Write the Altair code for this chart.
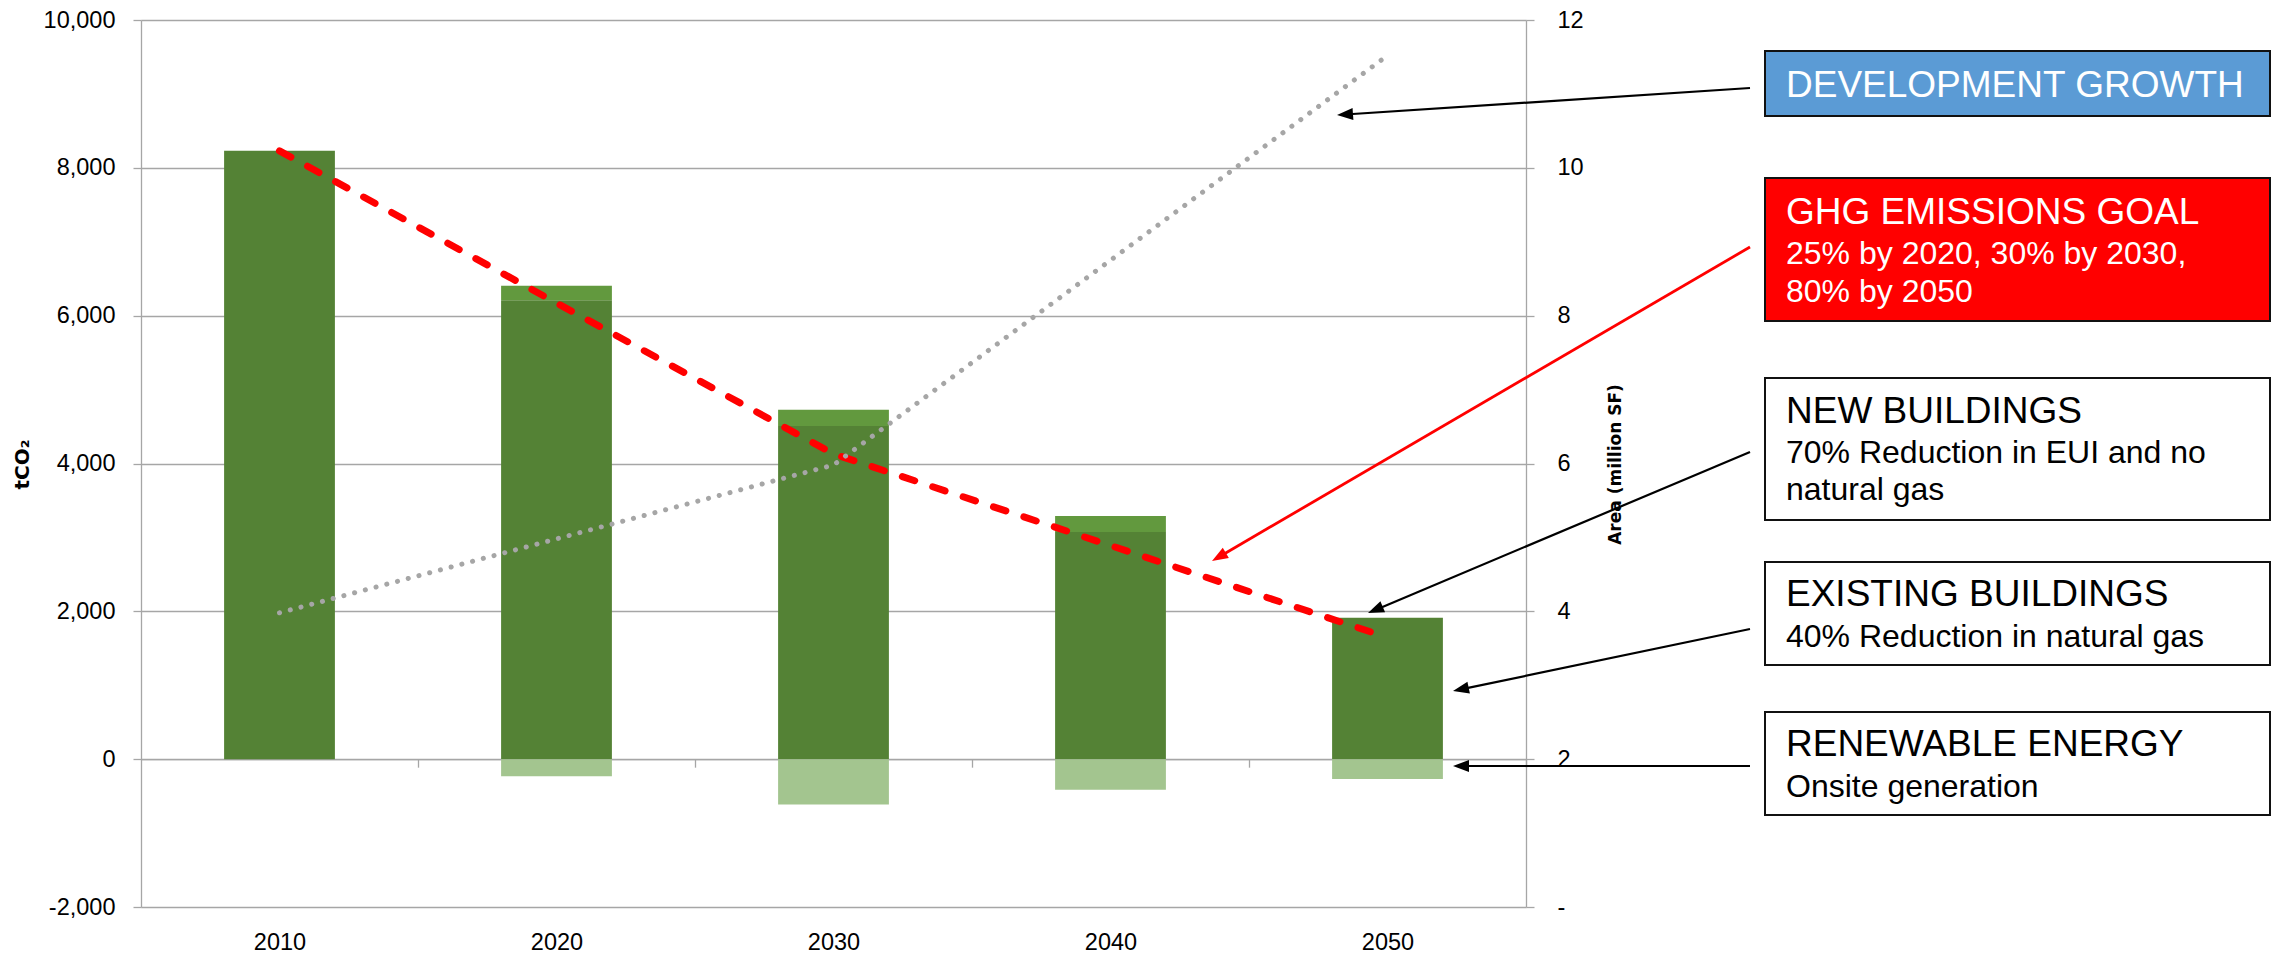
import math
import pandas as pd
import altair as alt

# ---------------- data ----------------
years = ["2010", "2020", "2030", "2040", "2050"]
existing = [8230, 6207, 4507, 3074, 1912]      # tCO2, dark green
new_bldg = [0, 198, 219, 215, 0]               # tCO2, lighter green on top
renewable = [0, -231, -612, -413, -268]        # tCO2, negative, pale green
ghg_goal = [8230, 6172, 4130, 2890, 1646]      # tCO2, red dashed line
area = [3.98, 4.98, 5.98, 8.75, 11.52]         # million SF, grey dotted line

left_ticks = [-2000, 0, 2000, 4000, 6000, 8000, 10000]
right_ticks = [0, 2, 4, 6, 8, 10, 12]

# ---------------- layout ----------------
W, H = 1385, 887
X0, Y0 = 141, 20
Y_MIN, Y_MAX = -2000, 10000
GRID = "#A6A6A6"
LABEL_FONT = "Liberation Sans"
LABEL_SIZE = 23.5
STEP = W / len(years)

comp_names = ["Existing buildings", "New buildings", "Renewable energy"]
comp_colors = ["#548235", "#62993E", "#A3C58F"]

rows = []
for i, yr in enumerate(years):
    rows.append({"year": yr, "component": comp_names[0], "value": existing[i], "ord": 0})
    rows.append({"year": yr, "component": comp_names[1], "value": new_bldg[i], "ord": 1})
    rows.append({"year": yr, "component": comp_names[2], "value": renewable[i], "ord": 2})
bars_df = pd.DataFrame(rows)
goal_df = pd.DataFrame({"year": years, "goal": ghg_goal})
area_df = pd.DataFrame({"year": years, "area": area})

zero_offset = -H * (0 - Y_MIN) / (Y_MAX - Y_MIN)

x_enc = alt.X(
    "year:N",
    sort=years,
    scale=alt.Scale(paddingInner=0.6, paddingOuter=0.3),
    axis=alt.Axis(
        title=None, orient="bottom", offset=zero_offset,
        domain=True, domainColor=GRID, domainWidth=1.3,
        ticks=True, tickSize=8, tickColor=GRID, tickWidth=1.3,
        tickOffset=STEP / 2, labelOffset=-STEP / 2,
        labels=True, labelAngle=0, labelFont=LABEL_FONT, labelFontSize=LABEL_SIZE,
        labelColor="#000000", labelBaseline="alphabetic", labelPadding=182,
        grid=False,
    ),
)

y_left_scale = alt.Scale(domain=[Y_MIN, Y_MAX], nice=False, zero=False)

bars = alt.Chart(bars_df).mark_bar().encode(
    x=x_enc,
    y=alt.Y(
        "value:Q", stack="zero", scale=y_left_scale,
        axis=alt.Axis(
            values=left_ticks, format=",d", title="tCO₂",
            labelExpr="replace(datum.label, '\u2212', '-')",
            titleFont="DejaVu Sans", titleFontWeight="bold", titleFontSize=20,
            titleColor="#000000", titleAngle=270, titleX=-119, titleY=444,
            titleAlign="center", titleBaseline="middle",
            labelFont=LABEL_FONT, labelFontSize=LABEL_SIZE, labelColor="#000000",
            labelPadding=18, tickSize=8, tickColor=GRID, tickWidth=1.3,
            domainColor=GRID, domainWidth=1.3,
            grid=True, gridColor=GRID, gridWidth=1.3,
        ),
    ),
    color=alt.Color("component:N", scale=alt.Scale(domain=comp_names, range=comp_colors), legend=None),
    order=alt.Order("ord:Q"),
)

goal_line = alt.Chart(goal_df).mark_line(
    color="#FF0000", strokeWidth=7, strokeDash=[13, 19], strokeCap="round"
).encode(
    x=alt.X("year:N", sort=years),
    y=alt.Y("goal:Q", scale=y_left_scale),
)

left_layer = alt.layer(bars, goal_line)

area_line = alt.Chart(area_df).mark_line(
    color="#A6A6A6", strokeWidth=5, strokeDash=[0.1, 11], strokeCap="round"
).encode(
    x=alt.X("year:N", sort=years),
    y=alt.Y(
        "area:Q",
        scale=alt.Scale(domain=[0, 12], nice=False),
        axis=alt.Axis(
            orient="right", values=right_ticks, format="d",
            labelExpr="datum.value == 0 ? '-' : datum.label",
            title="Area (million SF)", titleFont="DejaVu Sans", titleFontWeight="bold",
            titleFontSize=17, titleColor="#000000", titleAngle=270, titleX=89, titleY=444,
            titleAlign="center", titleBaseline="middle",
            labelFont=LABEL_FONT, labelFontSize=LABEL_SIZE, labelColor="#000000",
            labelPadding=23, tickSize=8, tickColor=GRID, tickWidth=1.3,
            domainColor=GRID, domainWidth=1.3, grid=False,
        ),
    ),
)

# ---------------- annotations (pixel layout, outside the plot) ----------------
one = pd.DataFrame({"k": [0]})

def px(x):
    return x - X0

def py(y):
    return y - Y0

boxes = [
    (1765, 51, 2270, 116, "#5B9BD5"),
    (1765, 178, 2270, 321, "#FF0000"),
    (1765, 378, 2270, 520, "#FFFFFF"),
    (1765, 562, 2270, 665, "#FFFFFF"),
    (1765, 712, 2270, 815, "#FFFFFF"),
]
texts = [
    ("DEVELOPMENT GROWTH", 96.7, 37, "#FFFFFF"),
    ("GHG EMISSIONS GOAL", 224, 37, "#FFFFFF"),
    ("25% by 2020, 30% by 2030,", 264.3, 32, "#FFFFFF"),
    ("80% by 2050", 301.7, 32, "#FFFFFF"),
    ("NEW BUILDINGS", 423.3, 37, "#000000"),
    ("70% Reduction in EUI and no", 462.7, 32, "#000000"),
    ("natural gas", 500, 32, "#000000"),
    ("EXISTING BUILDINGS", 606, 37, "#000000"),
    ("40% Reduction in natural gas", 646.7, 32, "#000000"),
    ("RENEWABLE ENERGY", 756, 37, "#000000"),
    ("Onsite generation", 796.7, 32, "#000000"),
]
arrows = [
    (1750, 88, 1337, 115, "#000000", 2.2),
    (1750, 247, 1212, 561, "#FF0000", 2.8),
    (1750, 452, 1368, 613, "#000000", 2.2),
    (1750, 629, 1453, 691, "#000000", 2.2),
    (1750, 766, 1453, 766, "#000000", 2.2),
]

ann = []
for (x1, y1, x2, y2, fill) in boxes:
    ann.append(
        alt.Chart(one).mark_rect(fill=fill, stroke="#111111", strokeWidth=2).encode(
            x=alt.value(px(x1)), x2=alt.value(px(x2)),
            y=alt.value(py(y1)), y2=alt.value(py(y2)),
        )
    )
for (txt, yb, size, col) in texts:
    ann.append(
        alt.Chart(one).mark_text(
            text=txt, font="Liberation Sans", fontSize=size, color=col,
            align="left", baseline="alphabetic",
        ).encode(x=alt.value(px(1786)), y=alt.value(py(yb)))
    )
ARROW_PATH = "M0,0L-2,-0.75L-2,0.75Z"
for (sx, sy, tx, ty, col, w) in arrows:
    dx, dy = tx - sx, ty - sy
    L = math.hypot(dx, dy)
    ex, ey = tx - dx / L * 8, ty - dy / L * 8
    ang = math.degrees(math.atan2(dy, dx)) % 360
    ann.append(
        alt.Chart(one).mark_rule(color=col, strokeWidth=w).encode(
            x=alt.value(px(sx)), y=alt.value(py(sy)),
            x2=alt.value(px(ex)), y2=alt.value(py(ey)),
        )
    )
    ann.append(
        alt.Chart(one).mark_point(
            shape=ARROW_PATH, filled=True, fill=col, color=col, opacity=1,
            size=256, angle=ang, strokeWidth=0,
        ).encode(x=alt.value(px(tx)), y=alt.value(py(ty)))
    )

chart = alt.layer(left_layer, area_line, *ann).resolve_scale(y="independent").properties(
    width=W, height=H,
    autosize=alt.AutoSizeParams(type="none"),
    padding={"left": X0, "top": Y0, "right": 2272 - X0 - W, "bottom": 958 - Y0 - H},
    background="#FFFFFF",
).configure_view(stroke=None)

chart.save("out.html", embed_options={"renderer": "svg", "actions": False})
